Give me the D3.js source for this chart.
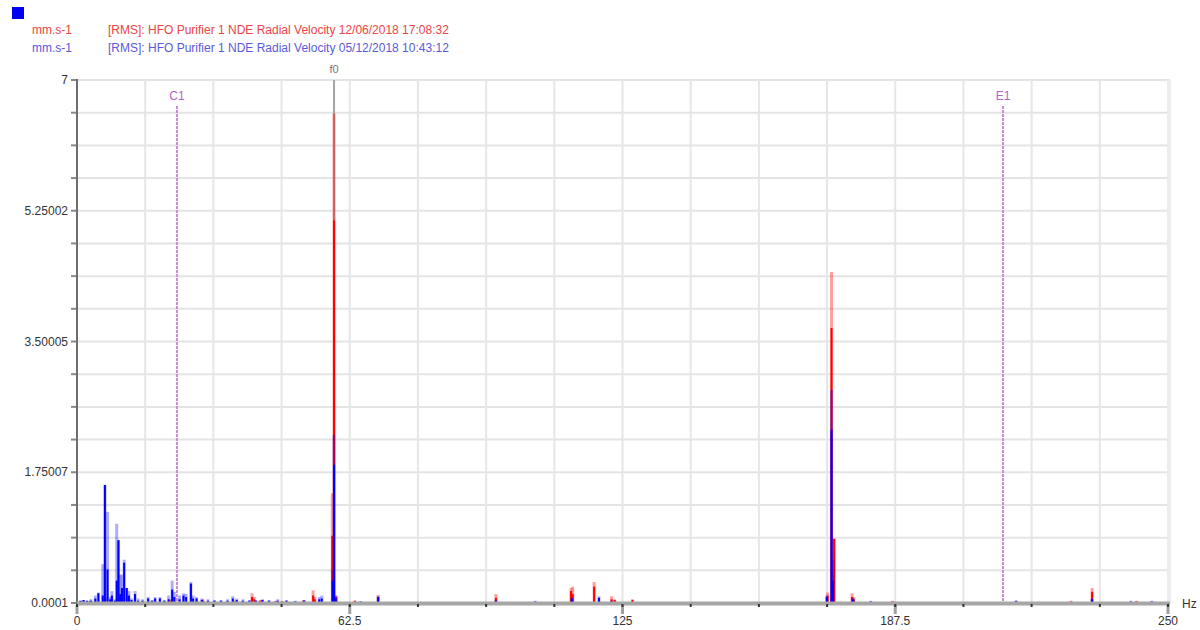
<!DOCTYPE html>
<html>
<head>
<meta charset="utf-8">
<script src="https://cdn.jsdelivr.net/npm/d3@7"></script>
<style>
  html, body { margin: 0; padding: 0; background: #fff; }
  svg { display: block; font-family: "Liberation Sans", Arial, sans-serif; }
</style>
</head>
<body>
<svg id="chart" width="1200" height="630"></svg>
<script>
// Axis labels
const freqTicks = [0, 62.5, 125, 187.5, 250];
const freqTickLabels = ["0", "62.5", "125", "187.5", "250"];
const levelTickLabels = ["0.0001", "1.75007", "3.50005", "5.25002", "7"];

// Legend entries
const seriesUnits = ["mm.s-1", "mm.s-1"];
const seriesNames = [
  "[RMS]: HFO Purifier 1 NDE Radial Velocity 12/06/2018 17:08:32",
  "[RMS]: HFO Purifier 1 NDE Radial Velocity 05/12/2018 10:43:12"
];

// Cursor markers (Hz)
const markerNames = ["C1", "E1"];
const markerFreqs = [22.9, 212.2];
const fundamentalFreq = 58.9;

// 12/06/2018 spectrum: frequency (Hz), envelope peak and line level (mm/s)
const redFreq  = [3.0, 6.4, 21.5, 28.9, 36.0, 40.1, 40.6, 42.0, 45.5, 47.0, 52.0, 54.1, 54.5, 58.5, 58.9, 59.4, 63.7, 69.0, 96.0, 113.2, 113.6, 118.5, 122.5, 123.2, 127.3, 172.0, 172.9, 173.5, 177.6, 178.0, 186.9, 227.8, 232.6, 242.8];
const redPeak  = [0.03, 0.08, 0.05, 0.05, 0.03, 0.13, 0.08, 0.04, 0.03, 0.03, 0.04, 0.17, 0.08, 1.47, 6.55, 0.10, 0.03, 0.11, 0.12, 0.20, 0.22, 0.28, 0.09, 0.05, 0.05, 0.14, 4.43, 0.86, 0.13, 0.08, 0.03, 0.03, 0.20, 0.03];
const redLevel = [0.02, 0.05, 0.03, 0.03, 0.02, 0.08, 0.05, 0.03, 0.02, 0.02, 0.03, 0.10, 0.05, 0.90, 5.12, 0.08, 0.03, 0.08, 0.07, 0.16, 0.12, 0.22, 0.05, 0.04, 0.04, 0.10, 3.68, 0.86, 0.08, 0.05, 0.02, 0.02, 0.15, 0.02];

// 05/12/2018 spectrum
const blueFreq  = [0.8, 1.5, 2.3, 3.2, 4.2, 4.9, 5.9, 6.4, 7.0, 7.6, 8.0, 8.7, 9.1, 9.5, 9.9, 10.3, 10.8, 11.4, 11.9, 12.5, 13.3, 14.0, 15.0, 16.3, 17.2, 17.9, 19.0, 20.0, 21.0, 21.8, 22.3, 23.5, 24.4, 25.0, 26.1, 26.6, 27.4, 28.6, 30.0, 31.5, 33.0, 34.5, 35.7, 36.6, 38.0, 39.5, 41.0, 42.5, 44.0, 46.0, 48.0, 50.0, 52.0, 55.5, 56.1, 58.6, 58.9, 59.3, 65.0, 69.0, 96.0, 105.0, 113.4, 119.6, 122.5, 171.8, 172.9, 173.2, 177.8, 181.9, 215.2, 232.6, 241.5, 246.3];
const bluePeak  = [0.03, 0.04, 0.03, 0.05, 0.10, 0.14, 0.52, 1.58, 1.22, 0.08, 0.16, 0.05, 1.06, 0.84, 0.38, 0.38, 0.58, 0.20, 0.16, 0.06, 0.16, 0.06, 0.05, 0.08, 0.04, 0.08, 0.08, 0.04, 0.10, 0.30, 0.15, 0.10, 0.13, 0.12, 0.28, 0.10, 0.08, 0.06, 0.05, 0.04, 0.04, 0.05, 0.09, 0.06, 0.05, 0.04, 0.04, 0.05, 0.04, 0.05, 0.04, 0.03, 0.04, 0.08, 0.10, 0.44, 2.25, 0.10, 0.02, 0.09, 0.04, 0.03, 0.07, 0.09, 0.03, 0.10, 2.85, 0.58, 0.07, 0.03, 0.03, 0.06, 0.03, 0.03];
const blueLevel = [0.03, 0.04, 0.03, 0.03, 0.06, 0.13, 0.10, 1.58, 0.45, 0.05, 0.10, 0.03, 0.30, 0.84, 0.12, 0.20, 0.54, 0.20, 0.10, 0.04, 0.12, 0.03, 0.03, 0.06, 0.03, 0.06, 0.06, 0.03, 0.05, 0.18, 0.08, 0.05, 0.10, 0.08, 0.26, 0.06, 0.06, 0.04, 0.03, 0.03, 0.03, 0.03, 0.06, 0.04, 0.03, 0.03, 0.03, 0.04, 0.03, 0.03, 0.03, 0.02, 0.03, 0.05, 0.06, 0.30, 1.85, 0.06, 0.02, 0.08, 0.03, 0.02, 0.06, 0.07, 0.02, 0.08, 2.32, 0.30, 0.05, 0.02, 0.03, 0.05, 0.02, 0.02];

const svg = d3.select("#chart");
const plot = { left: 77, right: 1168, top: 80, bottom: 603 };

const x = d3.scaleLinear().domain([0, 250]).range([plot.left, plot.right]);
const y = d3.scaleLinear().domain([0.0001, 7]).range([plot.bottom, plot.top]);

const xGrid = d3.range(0, 250.001, 15.625);
const yGrid = d3.range(0, 17).map(i => 0.0001 + i * (7 - 0.0001) / 16);

// Legend
svg.append("rect").attr("x", 12).attr("y", 7).attr("width", 12).attr("height", 12).attr("fill", "#0000ee");
const legendColors = ["#ec4444", "#5a5ad8"];
[34, 52].forEach((yy, i) => {
  svg.append("text").attr("x", 32).attr("y", yy).attr("font-size", 12).attr("fill", legendColors[i]).text(seriesUnits[i]);
  svg.append("text").attr("x", 108).attr("y", yy).attr("font-size", 12).attr("fill", legendColors[i]).text(seriesNames[i]);
});

// Grid
const grid = svg.append("g");
grid.selectAll(".hg").data(yGrid).join("line")
  .attr("x1", plot.left).attr("x2", plot.right + 2)
  .attr("y1", d => y(d)).attr("y2", d => y(d))
  .attr("stroke", "#e4e4e4").attr("stroke-width", 2);
grid.selectAll(".vg").data(xGrid.slice(1)).join("line")
  .attr("x1", d => x(d)).attr("x2", d => x(d))
  .attr("y1", plot.top).attr("y2", plot.bottom)
  .attr("stroke", "#e6e6e6").attr("stroke-width", 2);
grid.append("line").attr("x1", plot.right + 1).attr("x2", plot.right + 1)
  .attr("y1", plot.top).attr("y2", plot.bottom).attr("stroke", "#ececec").attr("stroke-width", 4);

// Fundamental cursor
svg.append("line").attr("x1", x(fundamentalFreq)).attr("x2", x(fundamentalFreq))
  .attr("y1", plot.top).attr("y2", plot.bottom).attr("stroke", "#a4a4a4").attr("stroke-width", 2);
svg.append("text").attr("x", x(fundamentalFreq)).attr("y", 73).attr("text-anchor", "middle")
  .attr("font-size", 11).attr("fill", "#777").text("f0");

// Harmonic cursors
markerNames.forEach((name, i) => {
  svg.append("line").attr("x1", x(markerFreqs[i])).attr("x2", x(markerFreqs[i]))
    .attr("y1", 106).attr("y2", plot.bottom)
    .attr("stroke", "#c98ad8").attr("stroke-width", 2).attr("stroke-dasharray", "3,1");
  svg.append("text").attr("x", x(markerFreqs[i])).attr("y", 100).attr("text-anchor", "middle")
    .attr("font-size", 12).attr("fill", "#b264c4").text(name);
});

// Spectra
function drawSeries(freq, peak, level, color, lightOpacity) {
  const g = svg.append("g");
  const pts = freq.map((f, i) => ({ f, p: peak[i], l: level[i] }));
  g.selectAll(".env").data(pts).join("rect")
    .attr("x", d => x(d.f) - 1.5).attr("width", 3)
    .attr("y", d => y(d.p)).attr("height", d => y(0.0001) - y(d.p))
    .attr("fill", color).attr("fill-opacity", lightOpacity);
  g.selectAll(".lvl").data(pts).join("rect")
    .attr("x", d => x(d.f) - 1).attr("width", 2)
    .attr("y", d => y(d.l)).attr("height", d => y(0.0001) - y(d.l))
    .attr("fill", color);
}
drawSeries(redFreq, redPeak, redLevel, "#ff0000", 0.38);
drawSeries(blueFreq, bluePeak, blueLevel, "#0000ff", 0.32);

// Y axis
const yAxis = svg.append("g");
yAxis.selectAll(".yt").data(yGrid).join("line")
  .attr("x1", plot.left - 6).attr("x2", plot.left)
  .attr("y1", d => y(d)).attr("y2", d => y(d))
  .attr("stroke", "#888").attr("stroke-width", 2);
yAxis.append("line").attr("x1", plot.left).attr("x2", plot.left)
  .attr("y1", plot.top - 1).attr("y2", plot.bottom + 4)
  .attr("stroke", "#6e6e6e").attr("stroke-width", 2);
yAxis.selectAll(".yl").data(levelTickLabels).join("text")
  .attr("x", 68).attr("y", (d, i) => y(yGrid[i * 4])).attr("dy", "0.35em")
  .attr("text-anchor", "end").attr("font-size", 12).attr("fill", "#333").text(d => d);

// X axis
const xAxis = svg.append("g");
xAxis.append("line").attr("x1", plot.left).attr("x2", plot.right + 2)
  .attr("y1", plot.bottom + 0.5).attr("y2", plot.bottom + 0.5)
  .attr("stroke", "#a6a6a6").attr("stroke-width", 4);
xAxis.selectAll(".xm").data(freqTicks).join("rect")
  .attr("x", d => x(d) - 1.5).attr("width", 3)
  .attr("y", plot.bottom + 2).attr("height", 9).attr("fill", "#a0a0a0");
xAxis.selectAll(".xt").data(xGrid).join("rect")
  .attr("x", d => x(d) - 1).attr("width", 2)
  .attr("y", plot.bottom + 1).attr("height", 3).attr("fill", "#333");
xAxis.selectAll(".xl").data(freqTicks).join("text")
  .attr("x", d => x(d)).attr("y", 625).attr("text-anchor", "middle")
  .attr("font-size", 12).attr("fill", "#333").text((d, i) => freqTickLabels[i]);
xAxis.append("text").attr("x", 1182).attr("y", 608).attr("font-size", 12).attr("fill", "#333").text("Hz");
</script>
</body>
</html>
